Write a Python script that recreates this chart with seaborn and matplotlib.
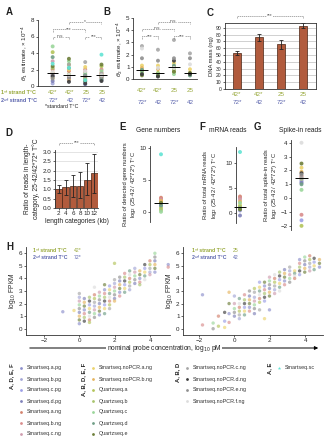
import numpy as np
import pandas as pd
import matplotlib
matplotlib.use('Agg')
import matplotlib.pyplot as plt
from matplotlib.patches import FancyArrowPatch
import seaborn as sns

# samples and their colours (legend at the bottom)
samples = ['Smartseq.a.pg', 'Smartseq.b.pg', 'Smartseq.c.pg', 'Smartseq.d.pg',
           'Smartseq.a.ng', 'Smartseq.b.ng', 'Smartseq.c.ng',
           'Smartseq.noPCR.a.ng', 'Smartseq.noPCR.b.ng', 'Quartzseq.a', 'Quartzseq.b',
           'Quartzseq.c', 'Quartzseq.d', 'Quartzseq.e',
           'Smartseq.noPCR.c.ng', 'Smartseq.noPCR.d.ng', 'Smartseq.noPCR.e.ng',
           'Smartseq.noPCR.f.ng', 'Smartseq.sc']
sample_colors = ['#8c8fcc', '#a3a6d6', '#9c9fe6', '#7e80b8', '#d4826e', '#d98c8c', '#cf9cae',
                 '#ecd36c', '#e5b45e', '#b3c45a', '#a8c46e', '#9ad69a', '#6f9e86', '#6e7f3a',
                 '#a6a6a6', '#3c3c3c', '#8f8f8f', '#dcdcdc', '#62e4d4']
legend_groups = ['A, D, E, F', 'A, B, D, E, F', 'A, B, D', 'A, E']
legend_members = [list(range(0, 7)), list(range(7, 14)), list(range(14, 18)), [18]]

first_strand = ['42*', '42*', '25', '25']
second_strand = ['72*', '42', '72*', '42']

# A: theta1 estimate (x 10^-4), one list per condition, all 19 samples
theta1 = [[1.1, 0.3, 1.3, 0.6, 2.0, 1.5, 3.0, 1.0, 1.6, 4.1, 2.2, 4.8, 3.5, 2.4, 1.4, 1.2, 0.9, 1.7, 2.7],
          [0.7, 1.1, 0.9, 1.3, 1.8, 1.25, 1.2, 2.0, 0.8, 2.6, 1.4, 3.0, 2.2, 3.3, 2.6, 0.5, 1.0, 1.35, 2.2],
          [0.5, 1.0, 0.8, 0.2, 2.0, 1.7, 1.4, 2.3, 1.1, 1.2, 0.9, 1.5, 1.3, 0.6, 2.9, 0.3, 1.2, 1.8, 0.7],
          [0.9, 1.1, 1.3, 0.7, 1.6, 2.0, 1.2, 1.4, 1.0, 2.4, 1.25, 1.8, 0.8, 2.6, 1.5, 0.6, 1.1, 1.3, 3.8]]
# B: theta2 estimate, samples 7..17
theta2 = [[1.1, 0.9, 0.6, 0.7, 0.5, 0.75, 0.3, 2.7, 0.4, 1.7, 2.5],
          [1.1, 0.8, 0.5, 0.45, 0.4, 0.3, 0.25, 2.4, 0.2, 1.5, 0.9],
          [1.3, 1.0, 0.6, 0.8, 0.4, 1.1, 0.6, 3.2, 1.5, 1.7, 0.9],
          [0.8, 0.5, 0.4, 0.45, 0.3, 0.3, 0.5, 2.1, 0.4, 1.7, 1.2]]
# C: DNA mass (ng)
dna_mass = [53, 76, 66, 93]
dna_err = [2.5, 5.5, 6.5, 3.5]
# D: ratio of reads per length category
length_cats = ['2', '4', '6', '8', '10', '12']
len_ratio = [1.0, 1.13, 1.15, 1.2, 1.52, 1.87]
len_lo = [0.8, 0.72, 0.6, 0.55, 0.7, 0.82]
len_hi = [1.22, 1.52, 1.78, 1.95, 2.42, 2.9]
# E, F, G: log2 ratios
gene_ratio = [1.3, 1.1, 0.9, 1.5, 2.2, 2.0, 1.8, 1.6, 1.7, 0.6, 0.3, 0.0, 1.0, 1.4, 9.0]
mrna_ratio = [0.8, 1.0, 0.5, -0.5, 3.3, 3.0, 2.7, 1.6, 2.3, 1.3, 1.2, 2.0, 0.9, 0.7, 12.2]
spike_ratio = [1.2, 1.3, -1.6, 1.1, 1.6, -1.2, 1.5, 2.2, 1.9, -2.0, 1.4, 0.6, 1.0, 2.5, 1.45, 1.8, 1.7, 4.0]
idx_EF = list(range(14)) + [18]
idx_G = list(range(18))

# H: spike-in probe concentration (log10 pM) vs log10 FPKM
h_conc_left = [-0.93, -0.3, 0.0, 0.28, 0.57, 0.85, 1.13, 1.42, 1.7, 1.98, 2.27, 2.55, 2.83,
               3.12, 3.4, 3.68, 3.97, 4.25, 5.0]
h_fpkm_left = [[1.35], [1.45],
               [2.8, 2.5, 2.2, 1.9, 1.6, 1.3, 1.0, 0.7, 0.4],
               [2.4, 2.1, 1.8, 1.5, 1.2, 0.9, 0.6],
               [2.5, 2.2, 1.9, 1.6, 1.3, 1.0, 0.7, 0.5],
               [3.3, 2.7, 2.4, 2.1, 1.8, 1.5, 1.2, 0.9],
               [2.9, 2.6, 2.3, 2.0, 1.7, 1.4, 1.1],
               [3.5, 3.1, 2.8, 2.5, 2.2, 1.9, 1.6, 1.2],
               [3.4, 3.1, 2.8, 2.5, 2.2, 1.9, 1.6],
               [5.2, 3.9, 3.6, 3.3, 3.0, 2.7, 2.4, 2.2],
               [4.1, 3.8, 3.5, 3.2, 2.9, 2.6],
               [4.4, 4.1, 3.8, 3.5, 3.2, 2.9],
               [4.6, 4.3, 4.0, 3.7, 3.4, 3.1],
               [4.8, 4.5, 4.2, 3.9, 3.6],
               [4.6, 4.3, 4.0, 3.7, 3.5],
               [5.1, 4.8, 4.5, 4.2, 3.9],
               [5.4, 5.1, 4.8, 4.5, 4.3],
               [6.0, 5.7, 5.4, 5.1, 4.8, 4.5],
               [5.1, 4.9]]
h_conc_right = [-1.8, -1.2, -0.9, -0.55, -0.3, 0.0, 0.28, 0.57, 0.85, 1.13, 1.42, 1.7, 1.98,
                2.27, 2.55, 2.83, 3.12, 3.4, 3.68, 3.97, 4.25, 4.5, 4.8]
h_fpkm_right = [[2.7, 0.3], [0.45, 0.0], [1.0, 0.2], [1.3, 0.6, 0.1],
                [2.9, 2.0, 1.2, 0.5],
                [2.6, 2.0, 1.6, 1.3, 1.0],
                [2.4, 2.0, 1.7, 1.4, 1.1, 0.8],
                [2.7, 2.3, 2.0, 1.7, 1.4, 1.1],
                [3.0, 2.6, 2.3, 2.0, 1.7, 1.4],
                [3.2, 2.9, 2.5, 2.2, 1.9, 1.6, 1.2],
                [3.7, 3.3, 3.0, 2.7, 2.4, 2.1, 1.5],
                [3.7, 3.4, 3.1, 2.8, 2.5, 2.2, 0.8],
                [4.1, 3.8, 3.5, 3.2, 2.9, 2.6, 1.5],
                [4.3, 4.0, 3.7, 3.4, 3.1, 2.8],
                [4.5, 4.2, 3.9, 3.6, 3.3, 3.0],
                [4.7, 4.4, 4.1, 3.8, 3.5],
                [4.9, 4.6, 4.3, 4.0, 3.7],
                [4.6, 4.4, 4.2, 4.0],
                [5.5, 5.2, 4.9, 4.6, 4.3],
                [5.7, 5.4, 5.1, 4.8, 4.5],
                [5.8, 5.5, 5.2, 4.9, 4.6],
                [5.6, 5.3, 5.0, 4.7],
                [5.5, 5.2, 4.9]]

GREEN = '#98a83a'
BLUE = '#5a63ad'
BAR = '#c4512a'
FIRST = '1ˢᵗ strand T°C'
SECOND = '2ⁿᵈ strand T°C'

sns.set_style('ticks')
plt.rcParams['font.family'] = ['Liberation Sans', 'DejaVu Sans']
plt.rcParams.update({'xtick.labelsize': 4.5, 'ytick.labelsize': 4.5,
                     'xtick.major.size': 1.5, 'ytick.major.size': 1.5,
                     'xtick.major.width': 0.5, 'ytick.major.width': 0.5,
                     'xtick.major.pad': 1, 'ytick.major.pad': 1,
                     'axes.linewidth': 0.6, 'axes.labelsize': 4.5, 'axes.labelpad': 1,
                     'axes.edgecolor': '#333333', 'text.color': '#222222'})

W, H = 324, 445
fig = plt.figure(figsize=(W / 100, H / 100), dpi=100)
pal = dict(zip(samples, sample_colors))


def px_axes(x0, y0, x1, y1):
    return fig.add_axes([x0 / W, 1 - y1 / H, (x1 - x0) / W, (y1 - y0) / H])


def ftext(x, y, s, **kw):
    fig.text(x / W, 1 - y / H, s, **kw)


def bracket(ax, x1, x2, y, h, label):
    ax.plot([x1, x1, x2, x2], [y - h, y, y, y - h], color='#8a8a8a', lw=0.5,
            ls=(0, (2, 1)), clip_on=False)
    ax.text((x1 + x2) / 2, y, label, ha='center', va='center', fontsize=3.5, color='#555555',
            bbox=dict(fc='white', ec='none', pad=0.2), clip_on=False)


def strip(ax, values, idx, width=0.35):
    rows = [(ci, samples[s], v) for ci, vals in enumerate(values) for s, v in zip(idx, vals)]
    df = pd.DataFrame(rows, columns=['cond', 'sample', 'value'])
    sns.scatterplot(data=df, x='cond', y='value', hue='sample', palette=pal, s=8,
                    linewidth=0, alpha=0.9, legend=False, ax=ax)
    for ci, vals in enumerate(values):
        ax.hlines(np.median(vals), ci - width, ci + width, color='black', lw=0.7, zorder=5,
                  clip_on=False)
    ax.set_xlabel('')
    ax.set_ylabel('')


def cond_labels(xs, y1, y2, size=4.5):
    for x, a, b in zip(xs, first_strand, second_strand):
        ftext(x, y1, a, ha='center', va='center', fontsize=size, color=GREEN)
        ftext(x, y2, b, ha='center', va='center', fontsize=size, color=BLUE)


# ---- A
axA = px_axes(38, 20, 108, 86)
strip(axA, theta1, list(range(19)))
axA.set_xlim(-0.9, 3.4)
axA.set_ylim(0, 8)
axA.set_yticks([0, 2, 4, 6, 8])
axA.set_xticks([])
sns.despine(ax=axA)
axA.set_ylabel(r'$\theta_1$ estimate, × 10$^{-4}$')
bracket(axA, 1, 3, 7.8, 0.3, '*')
bracket(axA, 0, 2, 6.9, 0.3, '***')
bracket(axA, 0, 1, 6.0, 0.3, 'n.s.')
bracket(axA, 2, 3, 6.0, 0.3, '***')
ftext(6, 12, 'A', fontsize=7, fontweight='bold', va='center')
ftext(1, 93, FIRST, ha='left', va='center', fontsize=3.9, color=GREEN, fontweight='bold')
ftext(1, 100, SECOND, ha='left', va='center', fontsize=3.9, color=BLUE, fontweight='bold')
cond_labels([53, 70, 86, 102], 93, 100)
ftext(62, 106, '*standard T°C', ha='center', va='center', fontsize=3.8)

# ---- B
axB = px_axes(133, 18, 197, 79)
strip(axB, theta2, list(range(7, 18)))
axB.set_xlim(-0.56, 3.44)
axB.set_ylim(0, 5)
axB.set_yticks(range(6))
axB.set_xticks([])
sns.despine(ax=axB)
axB.set_ylabel(r'$\theta_2$ estimate, × 10$^{-4}$')
bracket(axB, 1, 3, 4.7, 0.2, 'n.s.')
bracket(axB, 0, 2, 4.1, 0.2, 'n.s.')
bracket(axB, 0, 1, 3.5, 0.2, '***')
bracket(axB, 2, 3, 3.5, 0.2, '***')
ftext(103, 12, 'B', fontsize=7, fontweight='bold', va='center')
cond_labels([142, 158, 174, 190], 90, 102)

# ---- C
axC = px_axes(225, 23, 316, 89)
sns.barplot(x=list(range(4)), y=dna_mass, color=BAR, edgecolor='#4a2414', linewidth=0.5,
            width=0.38, ax=axC, native_scale=True)
axC.errorbar(range(4), dna_mass, yerr=dna_err, fmt='none', ecolor='#222222', elinewidth=0.6,
             capsize=1.2, capthick=0.6)
axC.set_xlim(-0.55, 3.6)
axC.set_ylim(0, 97)
axC.set_yticks(range(0, 100, 10))
axC.tick_params(axis='y', labelsize=3.6)
axC.set_xticks([])
axC.yaxis.grid(True, color='#bdbdbd', lw=0.5)
axC.set_axisbelow(True)
axC.set_ylabel('DNA mass (ng)', fontsize=4.2)
bracket(axC, 0, 3, 108, 3, '***')
ftext(207, 13, 'C', fontsize=7, fontweight='bold', va='center')
cond_labels([237, 259, 281, 303], 95, 103)

# ---- D
axD = px_axes(55, 150, 98, 208)
sns.barplot(x=length_cats, y=len_ratio, color=BAR, edgecolor='#4a2414', linewidth=0.5,
            width=0.92, ax=axD)
lo = np.array(len_ratio) - np.array(len_lo)
hi = np.array(len_hi) - np.array(len_ratio)
axD.errorbar(range(6), len_ratio, yerr=[lo, hi], fmt='none', ecolor='#222222',
             elinewidth=0.6, capsize=1.5, capthick=0.6)
axD.set_xlim(-0.5, 5.5)
axD.set_ylim(0, 3.1)
axD.set_yticks(np.arange(0, 3.01, 0.5))
axD.set_yticklabels([f'{v:.1f}' for v in np.arange(0, 3.01, 0.5)])
axD.yaxis.grid(True, color='#d0d0d0', lw=0.4)
axD.set_axisbelow(True)
sns.despine(ax=axD)
axD.set_xlabel('length categories (kb)', fontsize=4.8)
axD.set_ylabel('Ratio of reads in length-\ncategory, 25·42/42*72* T°C', fontsize=4.8,
               labelpad=2)
bracket(axD, 0, 5, 3.5, 0.12, '***')
ftext(5, 133, 'D', fontsize=7, fontweight='bold', va='center')


# ---- E, F, G
def ratio_panel(ax, vals, idx, ylim, yticks, xlim):
    strip(ax, [vals], idx, width=0.6)
    ax.set_xlim(*xlim)
    ax.set_ylim(*ylim)
    ax.set_yticks(yticks)
    ax.set_xticks([])
    sns.despine(ax=ax, bottom=True)


axE = px_axes(150, 146, 172, 222)
ratio_panel(axE, gene_ratio, idx_EF, (-1.6, 10.3), [0, 5, 10], (-1, 1))
axE.set_ylabel('Ratio of detected gene numbers\nlog$_2$ (25·42 / 42*72*) T°C', fontsize=4.2)
ftext(158, 131, 'Gene numbers', ha='center', va='center', fontsize=4.8)
ftext(119, 127, 'E', fontsize=7, fontweight='bold', va='center')

axF = px_axes(236, 147, 250, 223)
ratio_panel(axF, mrna_ratio, idx_EF, (-2, 13.2), [0, 5, 10], (-0.4, 1.0))
axF.set_ylabel('Ratio of total mRNA reads\nlog$_2$ (25·42 / 42*72*) T°C', fontsize=4.2,
               labelpad=5)
ftext(228, 131, 'mRNA reads', ha='center', va='center', fontsize=4.8)
ftext(199, 127, 'F', fontsize=7, fontweight='bold', va='center')

axG = px_axes(291, 140, 312, 230)
ratio_panel(axG, spike_ratio, idx_G, (-2.3, 4.2), list(range(-2, 5)), (-1, 1))
axG.set_ylabel('Ratio of total spike-in reads\nlog$_2$ (25·42 / 42*72*) T°C', fontsize=4.2)
ftext(300, 131, 'Spike-in reads', ha='center', va='center', fontsize=4.8)
ftext(254, 127, 'G', fontsize=7, fontweight='bold', va='center')


# ---- H
def h_panel(ax, conc, fpkm, shift):
    rows = []
    for i, (c, ys) in enumerate(zip(conc, fpkm)):
        for j, y in enumerate(ys):
            rows.append((c, y, samples[(i * shift + j * 5) % 18]))
    df = pd.DataFrame(rows, columns=['conc', 'fpkm', 'sample'])
    sns.scatterplot(data=df, x='conc', y='fpkm', hue='sample', palette=pal, s=6, alpha=0.65,
                    linewidth=0, legend=False, ax=ax)
    ax.set_ylim(-0.5, 6.5)
    ax.set_yticks(range(7))
    ax.set_xticks([-2, 0, 2, 4])
    ax.set_xlabel('')
    ax.set_ylabel('log$_{10}$ FPKM', fontsize=4.8)
    sns.despine(ax=ax)


axH1 = px_axes(26, 247, 170, 335)
h_panel(axH1, h_conc_left, h_fpkm_left, 7)
axH1.set_xlim(-3, 5.1)
axH2 = px_axes(183, 247, 323, 335)
h_panel(axH2, h_conc_right, h_fpkm_right, 11)
axH2.set_xlim(-2.9, 5.0)
ftext(6, 247, 'H', fontsize=7, fontweight='bold', va='center')
for x0, a, b in [(33, '42*', '72*'), (192, '25', '42')]:
    ftext(x0, 250, FIRST, fontsize=3.7, color=GREEN, fontweight='bold', va='center')
    ftext(x0, 257.5, SECOND, fontsize=3.7, color=BLUE, fontweight='bold', va='center')
    ftext(x0 + 41, 250, a, fontsize=3.7, color=GREEN, va='center')
    ftext(x0 + 41, 257.5, b, fontsize=3.7, color=BLUE, va='center')

arrow = FancyArrowPatch((27 / W, 1 - 348 / H), (321 / W, 1 - 348 / H),
                        transform=fig.transFigure, arrowstyle='-|>', mutation_scale=5,
                        lw=0.7, color='black')
fig.add_artist(arrow)
ftext(164, 348, 'nominal probe concentration, log$_{10}$ pM', ha='center', va='center',
      fontsize=4.8, bbox=dict(fc='white', ec='none', pad=0.5), zorder=5)

# ---- legend
axL = fig.add_axes([0, 0, 1, 1])
axL.set_xlim(0, W)
axL.set_ylim(H, 0)
axL.axis('off')
for label, members, lx, mx in zip(legend_groups, legend_members, [12, 84, 178, 270],
                                  [21, 93, 187, 279]):
    axL.text(lx, 363, label, rotation=90, ha='center', va='top', fontsize=4.2,
             fontweight='bold')
    for k, s in enumerate(members):
        y = 368 + 11 * k
        axL.plot(mx, y, marker='*' if s == 18 else 'o', ms=2.6 if s == 18 else 2.0,
                 color=sample_colors[s], mec='none')
        axL.text(mx + 6, y, samples[s], va='center', fontsize=3.9, color='#333333')

fig.savefig('out.png', dpi=100)
